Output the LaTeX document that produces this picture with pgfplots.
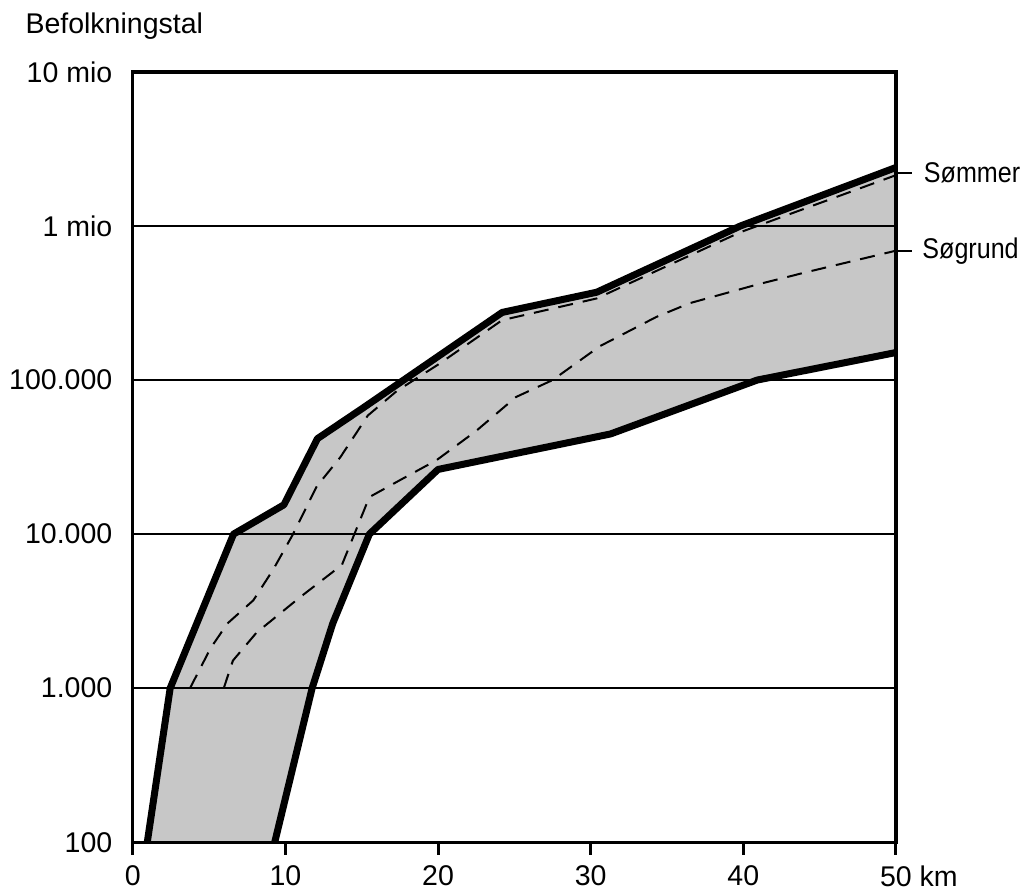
\documentclass[border=0pt]{standalone}
\usepackage{fontspec}
\setmainfont{Liberation Sans}
\newfontfamily\narrowfont[FakeStretch=0.88]{Liberation Sans}
\usepackage{pgfplots}
\pgfplotsset{compat=1.18}
\begin{document}
\begin{tikzpicture}[font=\fontsize{11.4}{13.7}\selectfont]
\path[use as bounding box] (-53.1pt,-19.8pt) rectangle (358.4pt,336.8pt);
\begin{axis}[
  at={(0,0)}, anchor=south west,
  scale only axis, width=305.2pt, height=308pt,
  xmin=0, xmax=50, ymin=100, ymax=1e7, ymode=log,
  xtick={0,10,20,30,40,50},
  xticklabels={0,10,20,30,40,{50\rlap{ km}}},
  ytick={100,1000,10000,100000,1000000,10000000},
  yticklabels={100,{1.000},{10.000},{100.000},{1 mio},{10 mio}},
  yminorticks=false,
  xtick pos=bottom, ytick pos=left,
  axis line style={line width=1.3pt},
  tick align=outside,
  major tick length=5pt,
  xtick style={line width=1.2pt, black},
  ytick style={draw=none},
  ymajorgrids, grid style={line width=0.8pt, black},
  axis on top,
  xticklabel style={anchor=north, inner sep=0pt, yshift=-4.3pt},
  yticklabel style={anchor=east, inner sep=0pt, xshift=-3pt},
]
% shaded band between outer boundaries
\addplot[fill=black!22, draw=none] coordinates {
 (0.95,100) (2.45,1000) (6.6,10000) (9.9,15500) (12.1,41700) (15.1,66100)
 (24.2,275000) (30.4,372000) (39.8,1000000) (50,2400000)
 (50,151000) (40.9,100000) (31.3,44700) (20.0,26300) (15.5,10000)
 (13.1,2630) (11.75,1000) (9.3,100)
} -- cycle;
% upper solid boundary
\addplot[line width=2.8pt, line join=round] coordinates {
 (0.95,100) (2.45,1000) (6.6,10000) (9.9,15500) (12.1,41700) (15.1,66100)
 (24.2,275000) (30.4,372000) (39.8,1000000) (50,2400000)
};
% lower solid boundary
\addplot[line width=2.8pt, line join=round] coordinates {
 (9.3,100) (11.75,1000) (13.1,2630) (15.5,10000) (20.0,26300)
 (31.3,44700) (40.9,100000) (50,151000)
};
% dashed: Sommer
\addplot[line width=0.8pt, dash pattern=on 6pt off 4pt] coordinates {
 (3.75,1000) (5.1,1820) (6.2,2630) (7.9,3720) (9.2,5890) (10.5,10000)
 (12.05,20400) (13.6,31600) (15.4,58900) (17.3,85000) (20,126000)
 (24.2,245000) (30.4,339000) (39.8,912000) (50,2140000)
};
% dashed: Sogrund
\addplot[line width=0.8pt, dash pattern=on 6pt off 4pt] coordinates {
 (5.96,1000) (6.56,1510) (8.1,2290) (10.95,3890) (13.7,6310) (15.5,17400)
 (17.5,22400) (19.9,30200) (22.5,46800) (25.1,77600) (27.5,100000)
 (30.6,166000) (34.3,257000) (36.5,316000) (40.9,417000) (44.1,501000)
 (50,692000)
};
\coordinate (som) at (axis cs:50,2210000);
\coordinate (sog) at (axis cs:50,690000);
\end{axis}
\draw[line width=0.8pt] (som) -- ++(6.4pt,0) node[anchor=west, inner sep=0pt, xshift=4.4pt]{\narrowfont Sømmer};
\draw[line width=0.8pt] (sog) -- ++(6.4pt,0) node[anchor=west, inner sep=0pt, xshift=3.8pt]{\narrowfont Søgrund};
\node[anchor=base west, inner sep=0pt] at (-43.1pt,323.6pt) {Befolkningstal};
\end{tikzpicture}
\end{document}
